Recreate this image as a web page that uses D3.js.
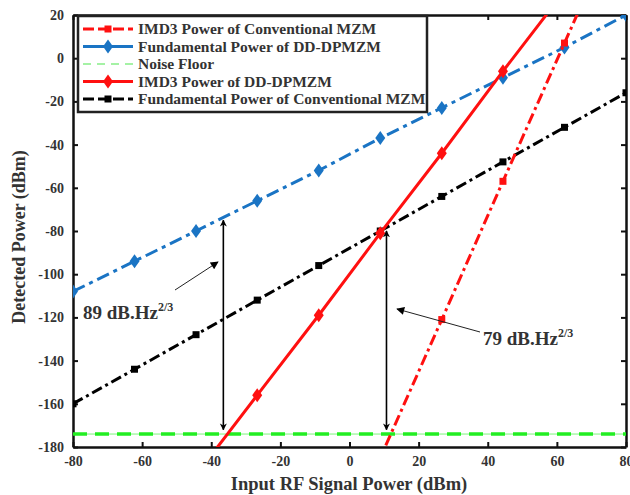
<!DOCTYPE html>
<html>
<head>
<meta charset="utf-8">
<script src="https://cdn.jsdelivr.net/npm/d3@7"></script>
<style>
  body { margin: 0; background: #fff; }
  svg text { font-family: 'Times New Roman', 'Liberation Serif', 'DejaVu Serif', serif; }
</style>
</head>
<body>
<svg width="630" height="495"></svg>
<script>
// Data
const xTicks = [-80, -60, -40, -20, 0, 20, 40, 60, 80]
const yTicks = [20, 0, -20, -40, -60, -80, -100, -120, -140, -160, -180]
const inputPower = [-80, -62.2, -44.4, -26.7, -8.9, 8.9, 26.7, 44.4, 62.2, 80]
const fundDD = [-108, -94, -80, -66, -52, -37, -23, -9, 5, 20]
const fundConv = [-160, -144, -128, -112, -96, -80, -64, -48, -32, -16]
const imd3DD = [-268, -230, -193, -156, -119, -81, -44, -6, 31, 69]
const imd3Conv = [-505, -441, -377, -313, -249, -185, -121, -57, 7, 71]
const noiseFloor = -174
const arrowsV = [{ x: -36.5, top: -75, bottom: -172 }, { x: 10.7, top: -80, bottom: -172 }]

const svg = d3.select('svg')
const serif = "'Times New Roman', 'Liberation Serif', 'DejaVu Serif', serif"

const xPixelMin = 73, xPixelMax = 626
const yPixelMin = 15, yPixelMax = 447

const xScale = d3.scaleLinear().domain([-80, 80]).range([xPixelMin, xPixelMax])
const yScale = d3.scaleLinear().domain([-180, 20]).range([yPixelMax, yPixelMin])

const blue = '#1a74c4', red = '#ff1010', green = '#22ee22'

const defs = svg.append('defs')
defs.append('clipPath').attr('id', 'plotClip')
  .append('rect')
  .attr('x', xPixelMin).attr('y', yPixelMin)
  .attr('width', xPixelMax - xPixelMin).attr('height', yPixelMax - yPixelMin)
defs.append('marker').attr('id', 'head').attr('viewBox', '0 0 10 10')
  .attr('refX', 9).attr('refY', 5).attr('markerWidth', 7).attr('markerHeight', 9)
  .attr('orient', 'auto-start-reverse').attr('markerUnits', 'userSpaceOnUse')
  .append('path').attr('d', 'M0,0 L10,5 L0,10 L3,5 Z').attr('fill', '#000')
defs.append('marker').attr('id', 'thinHead').attr('viewBox', '0 0 10 10')
  .attr('refX', 9).attr('refY', 5).attr('markerWidth', 11).attr('markerHeight', 8)
  .attr('orient', 'auto').attr('markerUnits', 'userSpaceOnUse')
  .append('path').attr('d', 'M0,0 L10,5 L0,10 Z').attr('fill', '#000')

// Axes (box with inward ticks)
const fmt = (d) => String(d)
const axisStyle = (g) => {
  g.select('.domain').attr('stroke', '#111').attr('stroke-width', 2.5)
  g.selectAll('.tick line').attr('stroke', '#111').attr('stroke-width', 2)
  g.selectAll('.tick text').attr('fill', '#333').attr('font-size', 14)
    .attr('font-weight', 'bold').attr('font-family', serif)
}

svg.append('g').attr('transform', `translate(0, ${yPixelMax})`)
  .call(d3.axisBottom(xScale).tickValues(xTicks).tickFormat(fmt).tickSizeInner(-5).tickSizeOuter(0).tickPadding(9))
  .call(axisStyle)
svg.append('g').attr('transform', `translate(0, ${yPixelMin})`)
  .call(d3.axisTop(xScale).tickValues(xTicks).tickFormat('').tickSizeInner(-5).tickSizeOuter(0))
  .call(axisStyle)
svg.append('g').attr('transform', `translate(${xPixelMin}, 0)`)
  .call(d3.axisLeft(yScale).tickValues(yTicks).tickFormat(fmt).tickSizeInner(-5).tickSizeOuter(0).tickPadding(9))
  .call(axisStyle)
svg.append('g').attr('transform', `translate(${xPixelMax}, 0)`)
  .call(d3.axisRight(yScale).tickValues(yTicks).tickFormat('').tickSizeInner(-5).tickSizeOuter(0))
  .call(axisStyle)

// Axis titles
svg.append('text').attr('x', 349).attr('y', 490)
  .attr('text-anchor', 'middle').attr('font-size', 18.5).attr('font-weight', 'bold').attr('fill', '#333')
  .attr('font-family', serif)
  .text('Input RF Signal Power (dBm)')
svg.append('text').attr('transform', 'translate(25, 237) rotate(-90)')
  .attr('text-anchor', 'middle').attr('font-size', 18).attr('font-weight', 'bold').attr('fill', '#333')
  .attr('font-family', serif)
  .text('Detected Power (dBm)')

const plot = svg.append('g').attr('clip-path', 'url(#plotClip)')

const line = d3.line().x((d) => xScale(d[0])).y((d) => yScale(d[1]))
const pairs = (ys) => inputPower.map((x, i) => [x, ys[i]])

// Noise floor
const nf = [[-80, noiseFloor], [80, noiseFloor]]
plot.append('path').attr('d', line(nf)).attr('fill', 'none')
  .attr('stroke', green).attr('stroke-width', 1).attr('opacity', 0.6)
plot.append('path').attr('d', line(nf)).attr('fill', 'none')
  .attr('stroke', green).attr('stroke-width', 3.5).attr('stroke-dasharray', '14,8')

const series = [
  { ys: fundConv, color: '#000', dash: '11,4,3,4', marker: 'square', size: 7 },
  { ys: fundDD, color: blue, dash: '13,5,4,5', marker: 'diamond', size: 12 },
  { ys: imd3Conv, color: red, dash: '11,4,3,4', marker: 'square', size: 7 },
  { ys: imd3DD, color: red, dash: null, marker: 'diamond', size: 12 }
]

const markerPath = (type, s) => type === 'diamond'
  ? `M0,${-s / 2 - 1} L${s / 2.4},0 L0,${s / 2 + 1} L${-s / 2.4},0 Z`
  : `M${-s / 2},${-s / 2} h${s} v${s} h${-s} Z`

series.forEach((s) => {
  const p = plot.append('path').attr('d', line(pairs(s.ys))).attr('fill', 'none')
    .attr('stroke', s.color).attr('stroke-width', 3)
  if (s.dash) p.attr('stroke-dasharray', s.dash)
  plot.selectAll(null).data(pairs(s.ys)).enter().append('path')
    .attr('transform', (d) => `translate(${xScale(d[0])}, ${yScale(d[1])})`)
    .attr('d', markerPath(s.marker, s.size)).attr('fill', s.color)
})

// Vertical double arrows
arrowsV.forEach((a) => {
  svg.append('line')
    .attr('x1', xScale(a.x)).attr('x2', xScale(a.x))
    .attr('y1', yScale(a.top)).attr('y2', yScale(a.bottom))
    .attr('stroke', '#000').attr('stroke-width', 1.6)
    .attr('marker-start', 'url(#head)').attr('marker-end', 'url(#head)')
})

// Annotations
const annot = [
  { text: '89 dB.Hz', tx: 83, ty: 319, from: [175, 290], to: [218, 262] },
  { text: '79 dB.Hz', tx: 483, ty: 345, from: [480, 332], to: [397, 309] }
]
annot.forEach((a) => {
  svg.append('line').attr('x1', a.from[0]).attr('y1', a.from[1])
    .attr('x2', a.to[0]).attr('y2', a.to[1])
    .attr('stroke', '#222').attr('stroke-width', 1)
    .attr('marker-end', 'url(#thinHead)')
  const t = svg.append('text').attr('x', a.tx).attr('y', a.ty)
    .attr('font-size', 19).attr('font-weight', 'bold').attr('fill', '#333')
    .attr('font-family', serif)
  t.append('tspan').text(a.text)
  t.append('tspan').attr('dy', -8).attr('font-size', 12).text('2/3')
})

// Legend
const legendItems = [
  { label: 'IMD3 Power of Conventional MZM', color: red, dash: '11,4', marker: 'square', size: 7, w: 3 },
  { label: 'Fundamental Power of DD-DPMZM', color: blue, dash: null, marker: 'diamond', size: 12, w: 3 },
  { label: 'Noise Floor', color: '#88ee88', dash: '8,6', marker: null, w: 1.5 },
  { label: 'IMD3 Power of DD-DPMZM', color: red, dash: null, marker: 'diamond', size: 12, w: 3 },
  { label: 'Fundamental Power of Conventional MZM', color: '#000', dash: '11,4', marker: 'square', size: 7, w: 3 }
]
const lg = svg.append('g')
lg.append('rect').attr('x', 78).attr('y', 16).attr('width', 349).attr('height', 96)
  .attr('fill', '#fff').attr('stroke', '#222').attr('stroke-width', 2.5)
legendItems.forEach((d, i) => {
  const y = 29 + i * 17.5
  const l = lg.append('line').attr('x1', 83).attr('x2', 133).attr('y1', y).attr('y2', y)
    .attr('stroke', d.color).attr('stroke-width', d.w)
  if (d.dash) l.attr('stroke-dasharray', d.dash)
  if (d.marker) {
    lg.append('path').attr('transform', `translate(108, ${y})`)
      .attr('d', markerPath(d.marker, d.size)).attr('fill', d.color)
  }
  lg.append('text').attr('x', 138).attr('y', y + 5)
    .attr('font-size', 15.5).attr('font-weight', 'bold').attr('fill', '#333')
    .attr('font-family', serif)
    .text(d.label)
})
</script>
</body>
</html>
